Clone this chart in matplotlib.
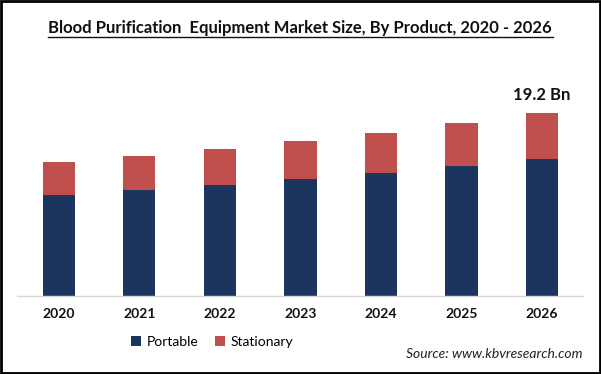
import matplotlib.pyplot as plt
from matplotlib.patches import Rectangle

# Значения (млрд)
years = ["2020", "2021", "2022", "2023", "2024", "2025", "2026"]
portable = [10.6, 11.12, 11.65, 12.28, 12.9, 13.64, 14.38]
stationary = [3.46, 3.57, 3.77, 3.98, 4.2, 4.51, 4.82]
total_label = "19.2 Bn"

navy = "#1c355e"
red = "#c0504d"

plt.rcParams['font.family'] = ['Lato', 'DejaVu Sans']

fig = plt.figure(figsize=(6.01, 3.74), dpi=100)
W, H = 601, 374
ax = fig.add_axes([17 / W, (H - 296) / H, 566 / W, 236 / H])

x = range(len(years))
ax.bar(x, portable, width=0.40, color=navy, label="Portable", zorder=2)
ax.bar(x, stationary, width=0.40, bottom=portable, color=red, label="Stationary", zorder=2)

# Подпись над последним столбцом
last = len(years) - 1
ax.annotate(total_label, (last, portable[last] + stationary[last]),
            xytext=(0, 7), textcoords="offset points", ha="center", va="bottom",
            fontsize=12, fontweight="bold", color="#111111")

ax.set_xlim(-0.52, 6.51)
ax.set_ylim(0, 24.76)
ax.set_xticks(list(x))
ax.set_xticklabels(years, fontsize=10, fontweight="bold", color="#111111")
ax.tick_params(axis="x", length=0, pad=9)
ax.set_yticks([])
for side in ["top", "right", "left"]:
    ax.spines[side].set_visible(False)
ax.spines["bottom"].set_color("#d9d9d9")
ax.spines["bottom"].set_linewidth(1.0)

fig.legend(loc="center", bbox_to_anchor=(212 / W, 1 - 342 / H), ncol=2, frameon=False,
           fontsize=10, handlelength=0.7, handleheight=0.7, handletextpad=0.4,
           columnspacing=1.2)

fig.text(300 / W, 1 - 28 / H, "Blood Purification  Equipment Market Size, By Product, 2020 - 2026",
         ha="center", va="center", fontsize=12, fontweight="bold", color="#111111")
# подчёркивание заголовка
fig.add_artist(plt.Line2D([48 / W, 553 / W], [1 - 37 / H, 1 - 37 / H], color="#111111", lw=1.0))

fig.text(582 / W, 1 - 354 / H, "Source: www.kbvresearch.com", ha="right", va="center",
         fontsize=10, style="italic", color="#222222")

# рамка вокруг картинки
fig.add_artist(Rectangle((0.001, 0.002), 0.997, 0.996, transform=fig.transFigure,
                         fill=False, edgecolor="black", lw=2))

fig.savefig("out.png", dpi=100)
